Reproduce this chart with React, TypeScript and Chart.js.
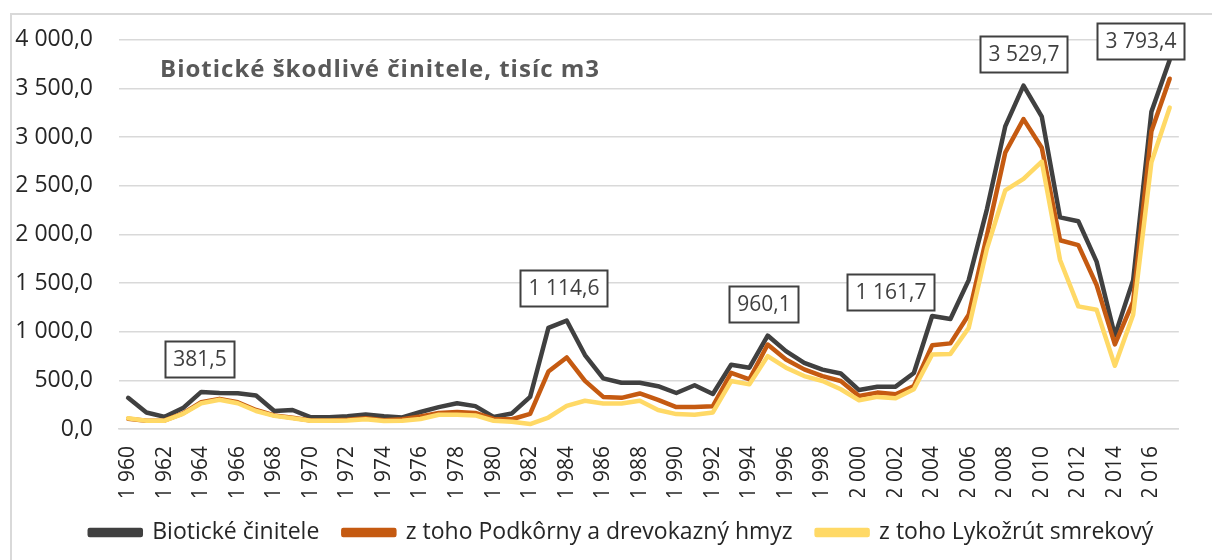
import React, { useEffect, useRef } from 'react';
import { Chart, registerables } from 'chart.js';

Chart.register(...registerables);

const years = [
  1960, 1961, 1962, 1963, 1964, 1965, 1966, 1967, 1968, 1969,
  1970, 1971, 1972, 1973, 1974, 1975, 1976, 1977, 1978, 1979,
  1980, 1981, 1982, 1983, 1984, 1985, 1986, 1987, 1988, 1989,
  1990, 1991, 1992, 1993, 1994, 1995, 1996, 1997, 1998, 1999,
  2000, 2001, 2002, 2003, 2004, 2005, 2006, 2007, 2008, 2009,
  2010, 2011, 2012, 2013, 2014, 2015, 2016, 2017,
];

const bioticke = [
  320, 170, 125, 215, 381.5, 370, 368, 345, 185, 195,
  120, 120, 130, 150, 130, 118, 175, 225, 265, 235,
  125, 160, 330, 1040, 1114.6, 760, 520, 475, 475, 440,
  370, 450, 360, 660, 630, 960.1, 800, 680, 610, 570,
  400, 435, 435, 575, 1161.7, 1130, 1530, 2260, 3110, 3529.7,
  3210, 2175, 2135, 1720, 960, 1530, 3260, 3793.4,
];

const podkorny = [
  105, 85, 88, 160, 275, 310, 275, 195, 140, 115,
  88, 88, 95, 110, 90, 100, 130, 165, 175, 165,
  103, 100, 155, 590, 735, 495, 330, 320, 365, 300,
  225, 225, 235, 578, 510, 868, 715, 613, 544, 493,
  340, 374, 357, 442, 860, 880, 1175, 1990, 2840, 3185,
  2890, 1940, 1890, 1480, 870, 1310, 3060, 3600,
];

const lykozrut = [
  110, 85, 85, 155, 265, 300, 265, 185, 135, 110,
  85, 85, 88, 100, 82, 85, 103, 146, 146, 140,
  85, 75, 51, 118, 238, 290, 262, 262, 290, 195,
  153, 146, 170, 493, 459, 749, 630, 544, 493, 408,
  296, 330, 316, 408, 766, 772, 1038, 1855, 2452, 2570,
  2748, 1737, 1260, 1226, 650, 1175, 2741, 3303,
];

const seriesNames = [
  'Biotické činitele',
  'z toho Podkôrny a drevokazný hmyz',
  'z toho Lykožrút smrekový',
];

const labeledYears = [1964, 1984, 1995, 2004, 2009, 2017];

const chartTitle = 'Biotické škodlivé činitele, tisíc m3';

const yMin = 0;
const yMax = 4000;
const yStep = 500;

function groupThousands(s: string): string {
  return s.replace(/\B(?=(\d{3})+(?!\d))/g, ' ');
}

function fmtNum(v: number): string {
  const [i, d] = v.toFixed(1).split('.');
  return groupThousands(i) + ',' + d;
}

function fmtYear(y: number): string {
  return groupThousands(String(y));
}

const FONT = '"Open Sans", "Noto Sans", sans-serif';

const labelOffsets: Record<number, [number, number]> = {
  1964: [-2, -33],
  1984: [-3, -33],
  1995: [-4, -32],
  2004: [-42, -24],
  2009: [0, -32],
  2017: [-29, -19],
};

const peakLabelPlugin = {
  id: 'peakLabels',
  afterDatasetsDraw(chart: any) {
    const ctx = chart.ctx as CanvasRenderingContext2D;
    const meta = chart.getDatasetMeta(0);
    ctx.save();
    ctx.font = `21px ${FONT}`;
    labeledYears.forEach((yr) => {
      const idx = years.indexOf(yr);
      const pt = meta.data[idx];
      if (!pt) return;
      const [dx, dy] = labelOffsets[yr] || [0, -32];
      const text = fmtNum(bioticke[idx]);
      const w = Math.round(ctx.measureText(text).width + 16);
      const h = 36;
      const cx = pt.x + dx;
      const cy = pt.y + dy;
      const x0 = Math.round(cx - w / 2) + 0.5;
      const y0 = Math.round(cy - h / 2) + 0.5;
      ctx.fillStyle = '#ffffff';
      ctx.fillRect(x0, y0, w, h);
      ctx.lineWidth = 2;
      ctx.strokeStyle = '#404040';
      ctx.strokeRect(x0, y0, w, h);
      ctx.fillStyle = '#404040';
      ctx.textAlign = 'center';
      ctx.textBaseline = 'middle';
      ctx.fillText(text, x0 + w / 2, y0 + h / 2 + 1);
    });
    ctx.restore();
  },
};

const decorPlugin = {
  id: 'decor',
  afterLayout(chart: any) {
    if (chart.legend) {
      chart.legend.left += 22;
      chart.legend.right += 22;
    }
  },
  beforeDraw(chart: any) {
    const ctx = chart.ctx as CanvasRenderingContext2D;
    ctx.save();
    ctx.fillStyle = '#ffffff';
    ctx.fillRect(0, 0, chart.width, chart.height);
    ctx.restore();
  },
  afterDraw(chart: any) {
    const ctx = chart.ctx as CanvasRenderingContext2D;
    ctx.save();
    ctx.strokeStyle = '#d9d9d9';
    ctx.lineWidth = 2;
    ctx.strokeRect(11, 14, chart.width + 20, chart.height + 20);
    ctx.font = `bold 24px ${FONT}`;
    (ctx as any).letterSpacing = '1px';
    ctx.fillStyle = '#595959';
    ctx.textAlign = 'left';
    ctx.textBaseline = 'middle';
    ctx.fillText(chartTitle, 160, 70);
    ctx.restore();
  },
};

export default function App() {
  const canvasRef = useRef<HTMLCanvasElement | null>(null);

  useEffect(() => {
    if (!canvasRef.current) return;
    const colors = ['#404040', '#C55A11', '#FFD966'];
    const datasets = [bioticke, podkorny, lykozrut].map((data, i) => ({
      label: seriesNames[i],
      data,
      borderColor: colors[i],
      backgroundColor: colors[i],
      borderWidth: 4.5,
      pointRadius: 0,
      pointHoverRadius: 0,
      tension: 0,
      fill: false,
      borderJoinStyle: 'round' as const,
      borderCapStyle: 'round' as const,
      order: 2 - i,
    }));

    const chart = new Chart(canvasRef.current, {
      type: 'line',
      data: {
        labels: years.map(String),
        datasets,
      },
      options: {
        animation: false,
        responsive: false,
        maintainAspectRatio: false,
        layout: { padding: { top: 26, right: 13, bottom: 6, left: 0 } },
        plugins: {
          legend: {
            position: 'bottom',
            labels: {
              boxWidth: 51,
              boxHeight: 5,
              padding: 24,
              color: '#262626',
              font: { family: FONT, size: 23 },
              sort: (a: any, b: any) => a.datasetIndex - b.datasetIndex,
            },
          },
          tooltip: { enabled: false },
          title: { display: false },
        },
        scales: {
          x: {
            offset: true,
            grid: { display: false, drawTicks: false },
            border: { display: true, color: '#d9d9d9', width: 1.5 },
            ticks: {
              autoSkip: false,
              minRotation: 90,
              maxRotation: 90,
              padding: 17,
              color: '#262626',
              font: { family: FONT, size: 21 },
              callback: (_v: any, index: number) =>
                index % 2 === 0 ? fmtYear(years[index]) : '',
            },
            afterFit: (scale: any) => {
              scale.height = 68;
            },
          },
          y: {
            min: yMin,
            max: yMax,
            grid: { color: '#d9d9d9', lineWidth: 1.5, drawTicks: false },
            border: { display: false },
            ticks: {
              stepSize: yStep,
              padding: 26,
              color: '#262626',
              font: { family: FONT, size: 23 },
              callback: (v: any) => fmtNum(Number(v)),
            },
            afterFit: (scale: any) => {
              scale.width = 119;
            },
          },
        },
      },
      plugins: [decorPlugin, peakLabelPlugin],
    });

    return () => chart.destroy();
  }, []);

  return (
    <div style={{ position: 'absolute', left: 0, top: 0, width: 1212, height: 560 }}>
      <canvas ref={canvasRef} width={1212} height={560} style={{ width: 1212, height: 560 }} />
    </div>
  );
}
